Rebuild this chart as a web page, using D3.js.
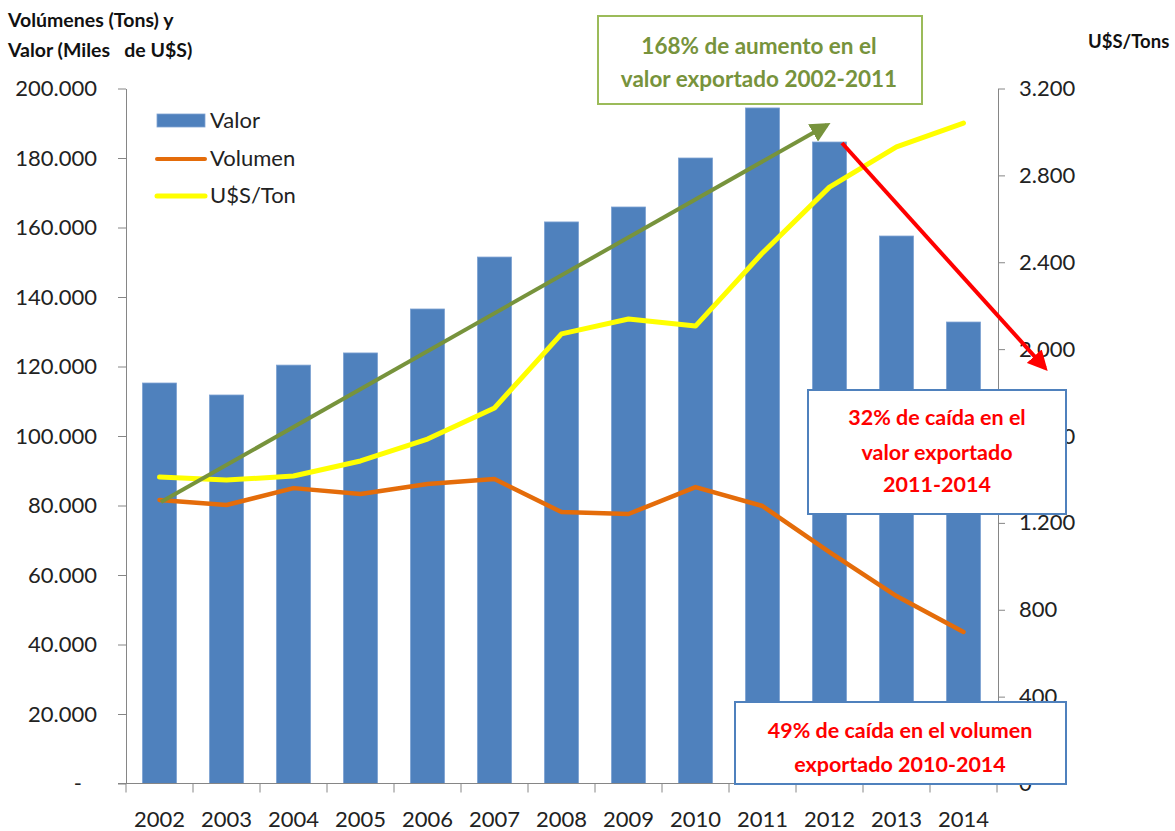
<!DOCTYPE html>
<html>
<head>
<meta charset="utf-8">
<script src="https://cdn.jsdelivr.net/npm/d3@7"></script>
<style>
  body { margin: 0; background: #fff; }
  svg { font-family: Lato, "Open Sans", sans-serif; }
</style>
</head>
<body>
<div id="grafica"></div>
<script>
  // datos
  const anios = ["2002", "2003", "2004", "2005", "2006", "2007", "2008", "2009", "2010", "2011", "2012", "2013", "2014"];
  const valor = [115250, 111800, 120400, 123900, 136550, 151500, 161600, 165900, 180000, 194400, 184600, 157550, 132800];
  const volumen = [81600, 80150, 85000, 83300, 86200, 87600, 78100, 77550, 85300, 79850, 66600, 53950, 43600];
  const precio = [1411, 1397, 1416, 1485, 1586, 1729, 2070, 2139, 2106, 2443, 2746, 2931, 3041];
  const ticksIzq = [0, 20000, 40000, 60000, 80000, 100000, 120000, 140000, 160000, 180000, 200000];
  const ticksDer = [0, 400, 800, 1200, 1600, 2000, 2400, 2800, 3200];

  const ancho = 1175, alto = 831;
  const izq = 126, der = 997, arriba = 88.5, abajo = 783.5;

  const fmt = v => v === 0 ? "-" : d3.format(",")(v).replace(/,/g, ".");
  const fmtDer = v => d3.format(",")(v).replace(/,/g, ".");

  const svg = d3.select("#grafica")
    .append("svg")
    .attr("width", ancho)
    .attr("height", alto);

  const x = d3.scaleBand()
    .domain(anios)
    .range([izq, der])
    .paddingInner(0.49)
    .paddingOuter(0.245);

  const y = d3.scaleLinear().domain([0, 200000]).range([abajo, arriba]);
  const y2 = d3.scaleLinear().domain([0, 3200]).range([abajo, arriba]);

  const cx = d => x(d) + x.bandwidth() / 2;

  // Barras
  svg.append("g")
    .selectAll("rect")
    .data(anios)
    .enter()
    .append("rect")
    .attr("x", d => x(d))
    .attr("width", x.bandwidth())
    .attr("y", (d, i) => y(valor[i]))
    .attr("height", (d, i) => abajo - y(valor[i]))
    .attr("fill", "#4F81BD")
    .attr("stroke", "#7FA3D3")
    .attr("stroke-width", 0.8);

  // Ejes
  const ejeColor = "#868686";

  const ejeIzq = svg.append("g")
    .attr("transform", `translate(${izq},0)`)
    .call(d3.axisLeft(y).tickValues(ticksIzq).tickFormat(fmt).tickSize(8).tickSizeOuter(0).tickPadding(21));
  ejeIzq.select(".domain").attr("stroke", ejeColor);
  ejeIzq.selectAll(".tick line").attr("stroke", ejeColor);
  ejeIzq.selectAll(".tick text").attr("font-size", 22).attr("fill", "#222").attr("font-family", "Lato");
  ejeIzq.selectAll(".tick text").filter(d => d === 0).attr("dx", -15);

  const ejeDer = svg.append("g")
    .attr("transform", `translate(${der + 1},0)`)
    .call(d3.axisRight(y2).tickValues(ticksDer).tickFormat(fmtDer).tickSize(7).tickSizeOuter(0).tickPadding(14));
  ejeDer.select(".domain").attr("stroke", ejeColor);
  ejeDer.selectAll(".tick line").attr("stroke", ejeColor);
  ejeDer.selectAll(".tick text").attr("font-size", 22).attr("fill", "#222").attr("font-family", "Lato");

  const ejeX = svg.append("g")
    .attr("transform", `translate(0,${abajo})`)
    .call(d3.axisBottom(x).tickSize(0).tickPadding(28));
  ejeX.select(".domain").remove();
  ejeX.selectAll(".tick text").attr("font-size", 22).attr("fill", "#222").attr("font-family", "Lato");

  svg.append("line")
    .attr("x1", izq - 8).attr("x2", der + 1)
    .attr("y1", abajo).attr("y2", abajo)
    .attr("stroke", ejeColor);

  // marcas entre categorias
  svg.append("g")
    .selectAll("line")
    .data(d3.range(anios.length + 1))
    .enter()
    .append("line")
    .attr("x1", i => izq + i * x.step())
    .attr("x2", i => izq + i * x.step())
    .attr("y1", abajo)
    .attr("y2", abajo + 9)
    .attr("stroke", ejeColor);

  // Lineas
  const lineaVol = d3.line()
    .x((d, i) => cx(anios[i]))
    .y(d => y(d));

  const lineaPrecio = d3.line()
    .x((d, i) => cx(anios[i]))
    .y(d => y2(d));

  svg.append("path")
    .attr("d", lineaVol(volumen))
    .attr("fill", "none")
    .attr("stroke", "#E46C0A")
    .attr("stroke-width", 4.5)
    .attr("stroke-linejoin", "round")
    .attr("stroke-linecap", "round");

  svg.append("path")
    .attr("d", lineaPrecio(precio))
    .attr("fill", "none")
    .attr("stroke", "#FFFF00")
    .attr("stroke-width", 5)
    .attr("stroke-linejoin", "round")
    .attr("stroke-linecap", "round");

  // Leyenda
  const leyenda = svg.append("g");
  leyenda.append("rect")
    .attr("x", 157).attr("y", 114).attr("width", 48).attr("height", 13)
    .attr("fill", "#4F81BD").attr("stroke", "#7FA3D3").attr("stroke-width", 0.8);
  leyenda.append("line")
    .attr("x1", 157).attr("x2", 205).attr("y1", 159).attr("y2", 159)
    .attr("stroke", "#E46C0A").attr("stroke-width", 4).attr("stroke-linecap", "round");
  leyenda.append("line")
    .attr("x1", 157).attr("x2", 205).attr("y1", 196).attr("y2", 196)
    .attr("stroke", "#FFFF00").attr("stroke-width", 5).attr("stroke-linecap", "round");
  leyenda.selectAll("text")
    .data(["Valor", "Volumen", "U$S/Ton"])
    .enter()
    .append("text")
    .attr("x", 210)
    .attr("y", (d, i) => 128 + i * 37.5)
    .attr("font-size", 22)
    .attr("fill", "#222")
    .text(d => d);

  // Titulos de ejes
  svg.append("text")
    .attr("x", 8).attr("y", 27)
    .attr("font-size", 19.5).attr("font-weight", "bold").attr("fill", "#111")
    .text("Volúmenes (Tons) y");
  svg.append("text")
    .attr("x", 8).attr("y", 57)
    .attr("font-size", 19.5).attr("font-weight", "bold").attr("fill", "#111")
    .attr("xml:space", "preserve")
    .text("Valor (Miles   de U$S)");
  svg.append("text")
    .attr("x", 1088).attr("y", 48)
    .attr("font-size", 18.5).attr("font-weight", "bold").attr("fill", "#111")
    .text("U$S/Tons");

  // Flechas
  const defs = svg.append("defs");
  defs.append("marker")
    .attr("id", "flechaVerde")
    .attr("viewBox", "0 0 10 10")
    .attr("refX", 8).attr("refY", 5)
    .attr("markerWidth", 5).attr("markerHeight", 5)
    .attr("orient", "auto")
    .append("path").attr("d", "M0,0 L10,5 L0,10 z").attr("fill", "#77933C");
  defs.append("marker")
    .attr("id", "flechaRoja")
    .attr("viewBox", "0 0 10 10")
    .attr("refX", 8).attr("refY", 5)
    .attr("markerWidth", 5).attr("markerHeight", 5)
    .attr("orient", "auto")
    .append("path").attr("d", "M0,0 L10,5 L0,10 z").attr("fill", "#FF0000");

  svg.append("line")
    .attr("x1", 161).attr("y1", 502)
    .attr("x2", 827).attr("y2", 125)
    .attr("stroke", "#77933C").attr("stroke-width", 4)
    .attr("marker-end", "url(#flechaVerde)");

  svg.append("line")
    .attr("x1", 842).attr("y1", 143)
    .attr("x2", 1045).attr("y2", 368)
    .attr("stroke", "#FF0000").attr("stroke-width", 4)
    .attr("marker-end", "url(#flechaRoja)");

  // Cajas de texto
  function caja(x0, y0, w, h, borde, color, lineas, cxTexto, yTextos, size) {
    svg.append("rect")
      .attr("x", x0).attr("y", y0).attr("width", w).attr("height", h)
      .attr("fill", "#fff").attr("stroke", borde).attr("stroke-width", 2);
    svg.append("g")
      .selectAll("text")
      .data(lineas)
      .enter()
      .append("text")
      .attr("x", cxTexto)
      .attr("y", (d, i) => yTextos[i])
      .attr("text-anchor", "middle")
      .attr("font-size", size)
      .attr("font-weight", "bold")
      .attr("fill", color)
      .text(d => d);
  }

  caja(598, 16, 324, 88, "#9BBB59", "#77933C",
    ["168% de aumento en el", "valor exportado 2002-2011"], 759, [54, 87], 22.5);
  caja(808, 390, 258, 124, "#4F81BD", "#FF0000",
    ["32% de caída en el", "valor exportado", "2011-2014"], 937, [425, 460, 492], 21.5);
  caja(735, 702, 331, 82, "#4F81BD", "#FF0000",
    ["49% de caída en el volumen", "exportado 2010-2014"], 900, [738, 772], 21.5);
</script>
</body>
</html>
